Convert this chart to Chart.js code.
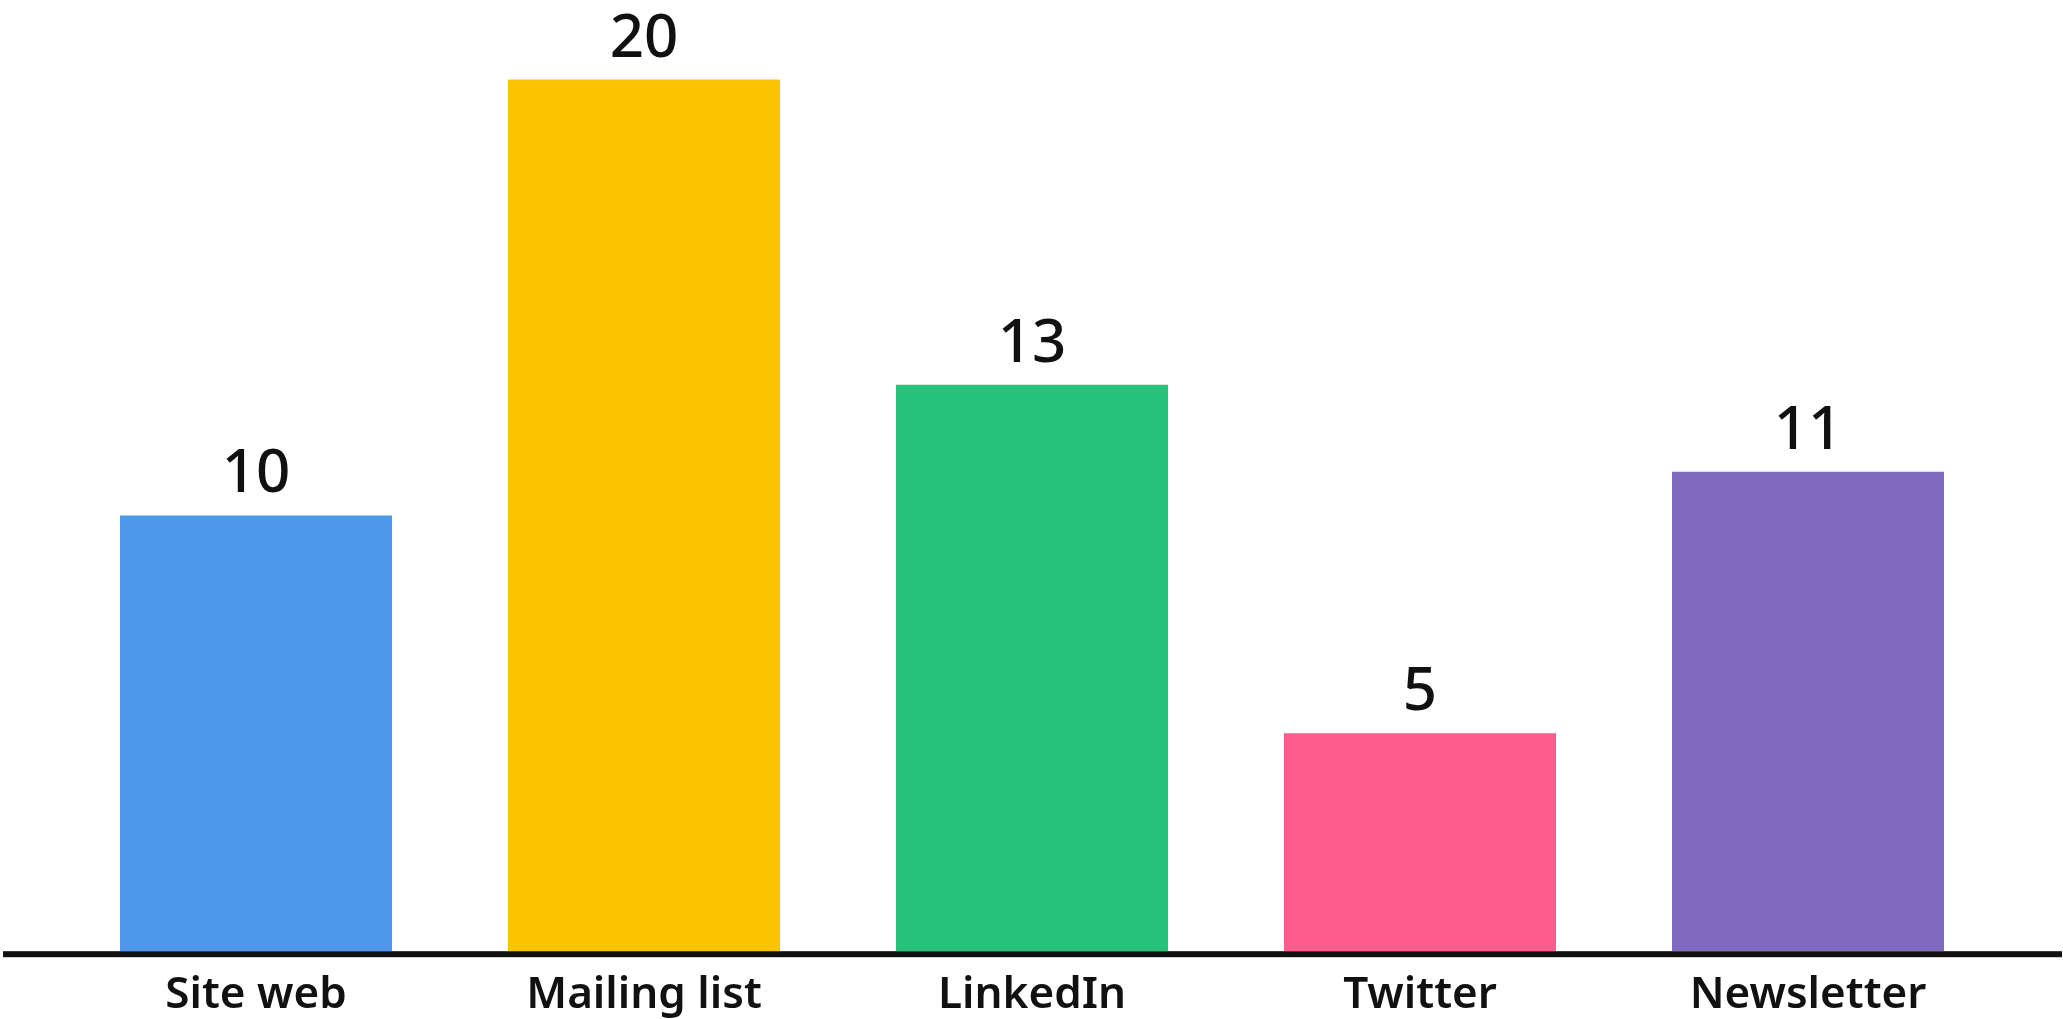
<!DOCTYPE html>
<html>
<head>
<meta charset="utf-8">
<script src="https://cdn.jsdelivr.net/npm/chart.js@4"></script>
<style>
  html, body { margin: 0; padding: 0; background: #fff; }
  #wrap { width: 2063px; height: 1019px; }
</style>
</head>
<body>
<div id="wrap"><canvas id="chart"></canvas></div>
<script>
const categories = ["Site web", "Mailing list", "LinkedIn", "Twitter", "Newsletter"];
const values = [10, 20, 13, 5, 11];
const barColors = ["#4E98EC", "#FCC300", "#29C27D", "#FE5C8D", "#7E6ABE"];

// value labels above each bar
const valueLabels = {
  id: "valueLabels",
  afterDatasetsDraw(chart) {
    const ctx = chart.ctx;
    const meta = chart.getDatasetMeta(0);
    ctx.save();
    ctx.font = "500 60px 'Noto Sans'";
    ctx.fillStyle = "#111";
    ctx.textAlign = "center";
    ctx.textBaseline = "alphabetic";
    meta.data.forEach((bar, i) => {
      ctx.fillText(String(values[i]), bar.x, bar.y - 23);
    });
    ctx.restore();
  }
};

// thick baseline across the whole width
const baseLine = {
  id: "baseLine",
  afterDatasetsDraw(chart) {
    const ctx = chart.ctx;
    const y = chart.scales.y.getPixelForValue(0);
    ctx.save();
    ctx.fillStyle = "#111";
    ctx.fillRect(3, y, chart.width - 4, 6);
    ctx.restore();
  }
};

new Chart(document.getElementById("chart"), {
  type: "bar",
  data: {
    labels: categories,
    datasets: [{
      data: values,
      backgroundColor: barColors,
      borderWidth: 0,
      barPercentage: 0.701,
      categoryPercentage: 1
    }]
  },
  options: {
    responsive: true,
    maintainAspectRatio: false,
    animation: false,
    layout: { padding: { top: 36, left: 62, right: 61, bottom: -21 } },
    plugins: {
      legend: { display: false },
      tooltip: { enabled: false }
    },
    scales: {
      y: { display: false, min: 0, max: 21 },
      x: {
        grid: { display: false, drawTicks: false },
        border: { display: false },
        ticks: {
          color: "#111",
          padding: 18,
          font: { family: "'Noto Sans'", size: 44, weight: "600" }
        }
      }
    }
  },
  plugins: [valueLabels, baseLine]
});
</script>
</body>
</html>
